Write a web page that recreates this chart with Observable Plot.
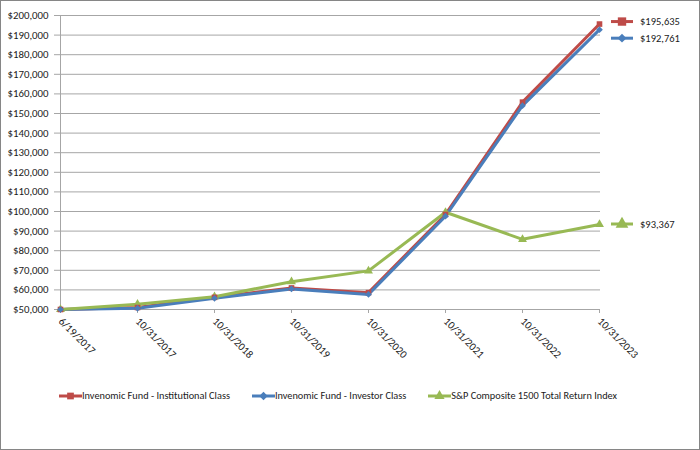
<!DOCTYPE html>
<html>
<head>
<meta charset="utf-8">
<script src="https://cdn.jsdelivr.net/npm/d3@7"></script>
<script src="https://cdn.jsdelivr.net/npm/@observablehq/plot@0.6"></script>
<style>
  html, body { margin: 0; padding: 0; background: #fff; }
  #frame { box-sizing: border-box; width: 700px; height: 450px; border: 1px solid #868686; position: relative; overflow: hidden; font-family: "Carlito", "Liberation Sans Narrow", "Liberation Sans", Arial, sans-serif; }
  #legend { position: absolute; left: 58px; top: 388px; display: flex; gap: 22px; font-size: 10.3px; color: #1a1a1a; white-space: nowrap; }
  #legend .item { display: flex; align-items: center; white-space: nowrap; }
  #legend svg { display: block; }
</style>
</head>
<body>
<div id="frame"><div id="chart"></div><div id="legend"></div></div>
<script>
const dates = ["6/19/2017","10/31/2017","10/31/2018","10/31/2019","10/31/2020","10/31/2021","10/31/2022","10/31/2023"];
const institutional = [50000, 51000, 56200, 61000, 58600, 98500, 155800, 195635];
const investor = [50000, 50600, 55700, 60500, 57700, 97600, 154000, 192761];
const sp1500 = [50000, 52700, 56500, 64200, 69700, 99600, 85800, 93367];
const seriesNames = ["Invenomic Fund - Institutional Class", "Invenomic Fund - Investor Class", "S&P Composite 1500 Total Return Index"];
const endLabels = ["$195,635", "$192,761", "$93,367"];
const yTicks = [50000,60000,70000,80000,90000,100000,110000,120000,130000,140000,150000,160000,170000,180000,190000,200000];

const colors = ["#BE4B48", "#4A7EBB", "#98B954"];
const symbols = ["square", "diamond2", "triangle"];
const symbolSizes = [5, 4.5, 5.5];
const labelDy = [-2, 9, 0];

const seriesValues = [institutional, investor, sp1500];
const rows = [];
seriesValues.forEach((vals, s) => vals.forEach((v, i) => rows.push({series: seriesNames[s], s, date: dates[i], value: v})));
const lastRows = seriesValues.map((vals, s) => ({s, date: dates[dates.length - 1], value: vals[vals.length - 1], label: endLabels[s]}));

const fmt = d3.format("$,");
const font = "Carlito, 'Liberation Sans Narrow', 'Liberation Sans', Arial, sans-serif";

function endLegend(index, scales) {
  const g = d3.create("svg:g").attr("text-anchor", "start");
  lastRows.forEach(r => {
    const x0 = scales.x(r.date) + 12;
    const y0 = scales.y(r.value) + labelDy[r.s];
    g.append("line").attr("x1", x0).attr("x2", x0 + 22).attr("y1", y0).attr("y2", y0)
      .attr("stroke", colors[r.s]).attr("stroke-width", 3);
    const sym = r.s === 0 ? d3.symbolSquare : r.s === 1 ? d3.symbolDiamond2 : d3.symbolTriangle;
    const area = [70, 50, 70][r.s];
    g.append("path").attr("d", d3.symbol(sym, area)()).attr("transform", `translate(${x0 + 11},${y0})`).attr("fill", colors[r.s]);
    g.append("text").attr("x", x0 + 29).attr("y", y0).attr("dy", "0.35em")
      .attr("font-size", 10.5).attr("fill", "#1a1a1a").attr("font-family", font).text(r.label);
  });
  return g.node();
}

const chart = Plot.plot({
  width: 698,
  height: 370,
  marginLeft: 57,
  marginRight: 99,
  marginTop: 14,
  marginBottom: 62,
  style: {fontFamily: font, fontSize: "10.8px", color: "#1a1a1a", background: "transparent"},
  x: {type: "point", domain: dates, padding: 0},
  y: {domain: [50000, 200000]},
  marks: [
    Plot.gridY(yTicks, {stroke: "#a6a6a6", strokeOpacity: 1, strokeWidth: 1}),
    Plot.ruleX([dates[0]], {stroke: "#a6a6a6"}),
    Plot.axisY(yTicks, {tickFormat: fmt, tickSize: 4, tickPadding: 6, stroke: "#a6a6a6", label: null, fill: "#1a1a1a"}),
    Plot.axisX({tickSize: 4, tickPadding: 6, tickRotate: 45, stroke: "#a6a6a6", label: null, fill: "#1a1a1a"}),
    Plot.line(rows, {x: "date", y: "value", z: "series", stroke: d => colors[d.s], strokeWidth: 3, strokeLinejoin: "round"}),
    Plot.dot(rows, {x: "date", y: "value", symbol: d => symbols[d.s], r: d => symbolSizes[d.s], fill: d => colors[d.s], stroke: "none"}),
    endLegend
  ]
});
document.getElementById("chart").appendChild(chart);

const legend = d3.select("#legend");
seriesNames.forEach((name, s) => {
  const item = legend.append("div").attr("class", "item");
  const svg = item.append("svg").attr("width", 23).attr("height", 12);
  svg.append("line").attr("x1", 0).attr("x2", 23).attr("y1", 6).attr("y2", 6).attr("stroke", colors[s]).attr("stroke-width", 3);
  const sym = s === 0 ? d3.symbolSquare : s === 1 ? d3.symbolDiamond2 : d3.symbolTriangle;
  svg.append("path").attr("d", d3.symbol(sym, 45)()).attr("transform", "translate(11.5,6)").attr("fill", colors[s]);
  item.append("span").text(name);
});
</script>
</body>
</html>
